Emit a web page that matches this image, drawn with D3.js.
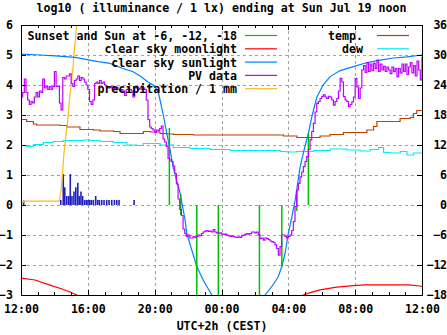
<!DOCTYPE html>
<html><head><meta charset="utf-8">
<script src="https://cdn.jsdelivr.net/npm/d3@7"></script>
<style>
body{margin:0;background:#fff;}
text{font-family:"DejaVu Sans Mono",monospace;font-weight:bold;font-size:11.6px;fill:#000;}
</style></head><body>
<svg id="c" width="447" height="335"></svg>
<script>
// ---------- data ----------
const title = "log10 ( illuminance / 1 lx) ending at Sun Jul 19 noon";
const xLabel = "UTC+2h (CEST)";
const xTickHours = [0,4,8,12,16,20,24];
const xTickLabels = ["12:00","16:00","20:00","00:00","04:00","08:00","12:00"];
const yTicks = [-3,-2,-1,0,1,2,3,4,5,6];
const y2Ticks = [-18,-12,-6,0,6,12,18,24,30,36];
const legendLeft = ["Sunset and Sun at -6, -12, -18","clear sky moonlight","clear sky sunlight","PV data","precipitation / 1 mm"];
const legendRight = ["temp.","dew"];

// hours after 12:00 noon (Sat) ... 24 = Sun noon
const sunHours = [0,1.14,2.04,3.23,4.61,5.33,6.05,6.71,7.13,7.6,7.9,8.2,8.32,8.52,8.72,8.92,9.1,9.32,9.52,9.82,9.92,10.22,10.52,10.9,11.42,11.7];
const sunValues = [5.03,5.0,4.97,4.92,4.78,4.72,4.56,4.44,4.3,4.1,4.0,3.8,3.5,3.0,2.39,1.85,1.27,0.8,0.4,-0.5,-0.94,-1.5,-2.05,-2.5,-3.0,-3.3];
const sunHours2 = [14.3,14.61,15.03,15.39,15.61,15.81,16.0,16.21,16.41,16.71,16.95,17.2,17.43,17.71,18.08,18.5,19.1,19.9,20.66,21.5,22.28,23.1,24];
const sunValues2 = [-3.3,-3.0,-2.7,-2.4,-2.05,-1.6,-0.94,-0.4,0.17,1.28,1.85,2.39,3.0,3.6,4.0,4.28,4.48,4.61,4.74,4.83,4.9,4.94,5.0];

const moonHours = [0,0.84,1.74,2.46,2.93,3.34,3.5];
const moonValues = [-2.44,-2.5,-2.67,-2.8,-2.9,-3.0,-3.05];
const moonHours2 = [16.8,16.89,17.31,17.9,18.9,19.9,20.6,23.17,23.89,24];
const moonValues2 = [-3.05,-3.0,-2.92,-2.83,-2.74,-2.69,-2.66,-2.66,-2.7,-2.72];

// sun events: sunset, -6, -12, -18, -18, -12, -6, sunrise
const sunEventHours = [8.88,9.56,10.52,11.81,14.27,15.61,16.51,17.2];
const sunEventTop = [2.57,0.37,0,0,0,0,0.5,2.39];
const sunEventBottom = [0,-0.33,-3.3,-3.3,-3.3,-2.05,-0.2,0];

// PV data, one value every 6 minutes from 12:00
const pvStepHours = 0.1;
const pvValues = [
3.6,3.75,4.2,3.75,3.5,3.35,3.45,3.4,3.6,3.75,
3.6,3.8,3.75,4.2,3.9,3.95,3.85,3.95,3.85,3.95,
4.45,3.95,3.95,3.4,3.17,4.25,4.2,4.3,4.3,4.37,
4.05,3.95,4.15,4.2,4.3,4.15,4.25,4.2,4.1,4.0,
3.85,3.45,3.35,3.5,4.05,4.1,4.05,4.15,4.05,4.1,
4.0,3.95,3.9,3.95,3.9,3.95,3.88,3.92,3.85,3.8,
3.85,3.8,3.65,3.85,3.9,3.85,3.8,3.6,3.9,3.95,
3.85,3.9,3.85,3.9,3.85,3.5,2.85,2.6,2.55,2.5,
2.42,2.5,2.48,2.55,2.63,2.2,2.1,1.95,1.55,1.5,
1.45,1.3,1.05,0.7,0.2,-0.15,-0.35,-0.8,-0.95,-1.05,
-1.0,-1.1,-1.1,-1.05,-1.08,-1.05,-1.0,-1.02,-0.95,-0.9,
-0.87,-0.85,-0.88,-0.87,-0.9,-0.82,-0.9,-0.93,-0.95,-0.93,
-0.97,-0.98,-0.97,-1.0,-1.02,-1.05,-1.03,-1.05,-1.07,-1.08,
-1.07,-1.08,-1.02,-1.0,-0.98,-0.95,-0.97,-0.95,-0.9,-0.9,
-0.93,-0.9,-1.0,-1.12,-1.1,-1.17,-1.1,-1.12,-1.15,-1.2,
-1.22,-1.25,-1.33,-1.45,-1.67,-1.39,-1.0,-1.0,-1.05,-1.1,
-1.05,-1.0,-0.85,-0.55,-0.05,0.5,0.72,0.94,1.1,1.28,
1.45,1.61,1.85,2.17,2.45,2.72,3.1,3.39,3.45,3.55,
3.62,3.67,3.6,3.55,3.62,3.6,3.5,3.33,3.45,3.55,
3.8,4.22,4.1,3.61,3.5,3.45,3.28,3.35,3.44,3.6,
4.22,3.94,3.55,3.9,4.5,4.65,4.42,4.75,4.45,4.7,
4.48,4.72,4.55,4.83,4.45,4.7,4.5,4.62,4.45,4.6,
4.5,4.38,4.6,4.45,4.55,4.28,4.55,4.4,4.7,4.45,
4.7,4.35,4.6,4.75,4.4,4.65,4.3,4.8,4.5,4.17,
4.94];

const precipCumHours = [0,0.18,2.29,2.4,2.5,2.57,2.68,2.8,2.9,3.0,3.1,3.2,3.33,3.45];
const precipCumValues = [0,0.13,0.13,0.5,1.17,1.72,2.28,2.83,3.5,4.0,4.5,5.2,6.0,6.5];

const precipBarHours = [0.16,2.38,2.53,2.62,2.74,2.86,2.95,3.05,3.17,3.28,3.4,3.49,3.59,3.69,3.81,3.91,4.01,4.11,4.21,4.33,4.47,4.59,4.69,4.83,4.97,5.13,5.27,5.43,5.59,5.73,5.87,6.77];
const precipBarValues = [0.15,0.17,1.03,0.59,0.3,0.3,1.03,0.3,0.45,0.59,0.74,0.3,0.45,0.3,0.17,0.17,0.17,0.17,0.17,0.17,0.3,0.17,0.17,0.17,0.17,0.17,0.17,0.17,0.17,0.17,0.17,0.17];

// temperature and dew point (deg C, right axis)
const tempHours = [0,0.34,0.74,0.94,2.34,2.74,3.53,4.33,4.73,5.53,5.93,7.13,7.32,7.72,8.32,8.72,9.12,10.32,15.51,15.71,16.51,17.71,17.9,18.5,19.3,20.3,20.7,21.1,21.3,22.5,22.69,23.29,23.49,23.69,24];
const tempValues = [17.1,16.7,16.2,16.0,15.9,15.6,15.1,15.0,14.8,14.7,14.3,14.3,14.7,14.6,14.3,14.2,14.1,14.0,14.0,13.8,13.5,13.5,13.8,14.1,14.5,14.5,15.0,15.7,16.7,16.7,17.3,17.5,18.3,18.9,18.9];
const dewHours = [0,0.34,0.74,1.34,1.93,2.53,3.73,4.13,4.73,5.53,6.33,6.93,7.32,7.92,8.32,9.12,10.12,11.32,12.51,15.51,15.91,16.51,17.5,18.5,19.5,20.3,20.9,21.4,21.7,22.1,22.7,23.1,23.5,24];
const dewValues = [11.9,11.7,12.1,12.5,12.7,12.9,13.0,12.9,12.7,12.5,12.0,11.9,12.3,12.3,12.0,11.5,11.3,11.1,10.9,10.7,10.6,10.7,10.9,11.2,11.0,10.8,11.1,11.5,10.5,10.4,10.7,10.0,10.4,10.4];

// ---------- styles ----------
const colGreen="#00c000", colRed="#ff0000", colBlue="#0080ff", colPurple="#c000ff",
      colOrange="#ffb820", colTemp="#c04000", colDew="#00eeee", colBars="#2020c0";

// ---------- chart ----------
const W=447,H=335, L=21, R=422, T=25, B=295;
const svg = d3.select("#c");
const x = d3.scaleLinear().domain([0,24]).range([L,R]);
const y = d3.scaleLinear().domain([-3,6]).range([B,T]);
const y2 = d3.scaleLinear().domain([-18,36]).range([B,T]);

svg.append("defs").append("clipPath").attr("id","clip")
  .append("rect").attr("x",L).attr("y",T).attr("width",R-L).attr("height",B-T);

// grid
const grid = svg.append("g").attr("stroke","#a0a0a0").attr("stroke-dasharray","3,3").attr("shape-rendering","crispEdges");
xTickHours.filter(h=>h>0&&h<24).forEach(h=>grid.append("line").attr("x1",Math.round(x(h))+0.5).attr("x2",Math.round(x(h))+0.5).attr("y1",T).attr("y2",B));
yTicks.filter(v=>v>-3&&v<6).forEach(v=>grid.append("line").attr("y1",Math.round(y(v))+0.5).attr("y2",Math.round(y(v))+0.5).attr("x1",L).attr("x2",R));

const plot = svg.append("g").attr("clip-path","url(#clip)").attr("fill","none").attr("stroke-width",1.2);

const lineXY = (hs,vs,sc,curve)=> d3.line().x(d=>x(d[0])).y(d=>sc(d[1])).curve(curve||d3.curveLinear)(hs.map((h,i)=>[h,vs[i]]));

// precipitation bars
precipBarHours.forEach((h,i)=>{
  plot.append("line").attr("x1",x(h)).attr("x2",x(h)).attr("y1",y(0)).attr("y2",y(precipBarValues[i]))
    .attr("stroke",colBars).attr("stroke-width",1.6);
});
// temperature & dew
plot.append("path").attr("d",lineXY(tempHours,tempValues,y2,d3.curveStepAfter)).attr("stroke",colTemp);
plot.append("path").attr("d",lineXY(dewHours,dewValues,y2,d3.curveStepAfter)).attr("stroke",colDew);
// precipitation cumulative
plot.append("path").attr("d",lineXY(precipCumHours,precipCumValues,y)).attr("stroke",colOrange);
// moon
plot.append("path").attr("d",lineXY(moonHours,moonValues,y)).attr("stroke",colRed);
plot.append("path").attr("d",lineXY(moonHours2,moonValues2,y)).attr("stroke",colRed);
// sun
plot.append("path").attr("d",lineXY(sunHours,sunValues,y)).attr("stroke",colBlue);
plot.append("path").attr("d",lineXY(sunHours2,sunValues2,y)).attr("stroke",colBlue);
// sun events
sunEventHours.forEach((h,i)=>{
  plot.append("line").attr("x1",x(h)).attr("x2",x(h)).attr("y1",y(sunEventTop[i])).attr("y2",y(sunEventBottom[i]))
    .attr("stroke",colGreen).attr("stroke-width",1.5);
});
// PV
const pvHours = pvValues.map((v,i)=>i*pvStepHours);
plot.append("path").attr("d",lineXY(pvHours,pvValues,y,d3.curveStepAfter)).attr("stroke",colPurple);

// axes
const axG = svg.append("g").attr("shape-rendering","crispEdges");
const styleAxis = g=>{ g.select(".domain").remove(); g.selectAll("line").attr("stroke","#000"); g.selectAll("text").attr("font-family",null).attr("font-size",null).attr("fill","#000"); };
axG.append("g").attr("transform",`translate(0,${B})`)
  .call(d3.axisBottom(x).tickValues(xTickHours).tickFormat((d,i)=>xTickLabels[i]).tickSize(-5).tickSizeOuter(0).tickPadding(10)).call(styleAxis);
axG.append("g").attr("transform",`translate(0,${B})`)
  .call(d3.axisBottom(x).tickValues(d3.range(0,25)).tickFormat("").tickSize(-3).tickSizeOuter(0)).call(styleAxis);
axG.append("g").attr("transform",`translate(0,${T})`)
  .call(d3.axisTop(x).tickValues(xTickHours).tickFormat("").tickSize(-5).tickSizeOuter(0)).call(styleAxis);
axG.append("g").attr("transform",`translate(0,${T})`)
  .call(d3.axisTop(x).tickValues(d3.range(0,25)).tickFormat("").tickSize(-3).tickSizeOuter(0)).call(styleAxis);
axG.append("g").attr("transform",`translate(${L},0)`)
  .call(d3.axisLeft(y).tickValues(yTicks).tickFormat(d3.format("d")).tickSize(-5).tickSizeOuter(0).tickPadding(8)).call(styleAxis);
const rAx = axG.append("g").attr("transform",`translate(${R},0)`)
  .call(d3.axisRight(y2).tickValues(y2Ticks).tickFormat(d3.format("d")).tickSize(-5).tickSizeOuter(0)).call(styleAxis);
rAx.selectAll("text").attr("text-anchor","end").attr("x",24.5).attr("letter-spacing","-0.5px");

// frame
svg.append("rect").attr("x",L+0.5).attr("y",T+0.5).attr("width",R-L).attr("height",B-T)
  .attr("fill","none").attr("stroke","#000").attr("shape-rendering","crispEdges");

// texts
svg.append("text").attr("x",(L+R)/2).attr("y",11.5).attr("text-anchor","middle").text(title);
svg.append("text").attr("x",(L+R)/2+0.5).attr("y",330).attr("text-anchor","middle").text(xLabel);

// legend
const legCols = [colGreen,colRed,colBlue,colPurple,colOrange];
legendLeft.forEach((t,i)=>{
  const by = 40 + i*13.3;
  svg.append("text").attr("x",237).attr("y",by).attr("text-anchor","end").text(t);
  svg.append("line").attr("x1",245).attr("x2",277).attr("y1",by-4.5).attr("y2",by-4.5).attr("stroke",legCols[i]).attr("stroke-width",1.2);
});
const legCols2 = [colTemp,colDew];
legendRight.forEach((t,i)=>{
  const by = 40 + i*13.3;
  svg.append("text").attr("x",363).attr("y",by).attr("text-anchor","end").text(t);
  svg.append("line").attr("x1",377).attr("x2",409).attr("y1",by-4.5).attr("y2",by-4.5).attr("stroke",legCols2[i]).attr("stroke-width",1.2);
});
</script></body></html>
